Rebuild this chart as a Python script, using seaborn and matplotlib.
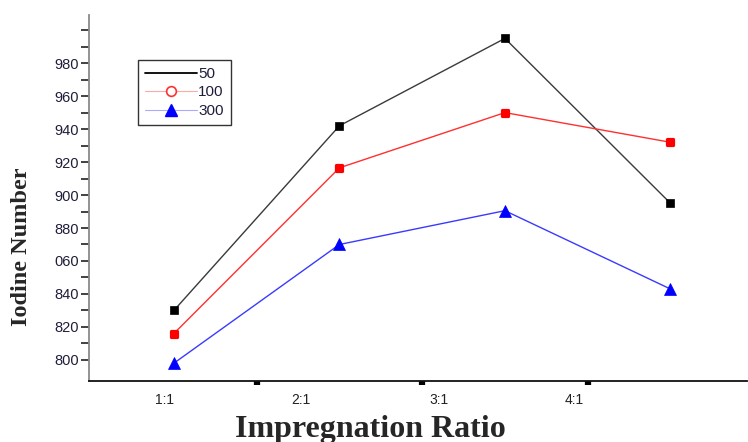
import matplotlib
matplotlib.use("Agg")
import matplotlib.pyplot as plt
from matplotlib.lines import Line2D
from matplotlib.markers import MarkerStyle
import seaborn as sns
import pandas as pd

categories = ["1:1", "2:1", "3:1", "4:1"]
series_names = ["50", "100", "300"]
vals_50 = [830, 942, 995, 895]
vals_100 = [816, 916.5, 950, 932]
vals_300 = [798, 870, 890.5, 843]
y_tick_values = [800, 820, 840, 860, 880, 900, 920, 940, 960, 980]
y_tick_labels = ["800", "820", "840", "060", "880", "900", "920", "940", "960", "980"]

sns.set_style("white")
plt.rcParams["font.family"] = ["Liberation Sans", "DejaVu Sans"]

pos = list(range(len(categories)))
df = pd.DataFrame({
    "pos": pos * 3,
    "value": vals_50 + vals_100 + vals_300,
    "series": [series_names[0]] * 4 + [series_names[1]] * 4 + [series_names[2]] * 4,
})

fig = plt.figure(figsize=(7.48, 4.42), dpi=100)
ax = fig.add_axes([89 / 748, 1 - 381 / 442, 1 - 89 / 748 - 0.001, (381 - 15) / 442])

styles = {
    "50": dict(color="#3a3a3a", marker="s", markersize=6.0, mfc="black", mec="black", mew=0.5, lw=1.0),
    "100": dict(color="#ff3030", marker=MarkerStyle("s", joinstyle="round"), markersize=5.0,
                mfc="#ff0000", mec="#ff0000", mew=2.3, lw=1.0),
    "300": dict(color="#3a3aff", marker="^", markersize=8.0, mfc="#0000ff", mec="#0000ff", mew=0.5, lw=1.0),
}
for name in series_names:
    sub = df[df["series"] == name]
    sns.lineplot(data=sub, x="pos", y="value", ax=ax, legend=False, **styles[name])

ax.set_xlim(-0.513, 3.464)
ax.set_ylim(787.2, 1009.2)

for s in ["top", "right"]:
    ax.spines[s].set_visible(False)
ax.spines["left"].set_color("#8a8a8a")
ax.spines["left"].set_linewidth(1.3)
ax.spines["bottom"].set_color("#111111")
ax.spines["bottom"].set_linewidth(1.3)

# y ticks
ax.set_yticks(y_tick_values)
ax.set_yticklabels(y_tick_labels)
minor_y = [v for v in range(810, 1001, 10) if v not in y_tick_values]
ax.set_yticks(minor_y, minor=True)
ax.tick_params(axis="y", which="both", direction="out", length=6, width=1.3,
               color="#333333", labelsize=10.5, labelcolor="#1e1e3a", pad=1, left=True)

# x ticks: dots between categories, labels offset
ax.set_xticks([0.5, 1.5, 2.5])
ax.set_xticklabels(["", "", ""])
ax.tick_params(axis="x", which="major", direction="out", length=3, width=4.5, color="black", bottom=True)
label_pos = [-0.054, 0.766, 1.599, 2.42]
ax.set_xticks(label_pos, minor=True)
ax.set_xticklabels(categories, minor=True)
ax.tick_params(axis="x", which="minor", length=0, labelsize=10, labelcolor="#222222", pad=9)

ax.set_xlabel("")
ax.set_ylabel("")
fig.text(22 / 748, 1 - 247 / 442, "Iodine Number", rotation=90, ha="center", va="center",
         fontsize=17.5, fontweight="bold", family=["Liberation Serif", "DejaVu Serif"])
fig.text(370 / 748, 1 - 429 / 442, "Impregnation Ratio", ha="center", va="center",
         fontsize=23, fontweight="bold", family=["Liberation Serif", "DejaVu Serif"])

handles = [
    Line2D([], [], color="black", lw=1.3),
    Line2D([], [], color="#ffaaaa", lw=0.8, marker="o", markersize=7, mfc="white", mec="#ff3030", mew=1.2),
    Line2D([], [], color="#aaaaff", lw=0.8, marker="^", markersize=8, mfc="#0000ff", mec="#0000ff"),
]
leg = ax.legend(handles, series_names, loc="upper left", bbox_to_anchor=((138 - 89) / 659, 1 - (60 - 15) / 366),
                frameon=True, fancybox=False, edgecolor="black", fontsize=11, handlelength=3.4,
                handletextpad=0.1, borderpad=0.45, labelspacing=0.3, borderaxespad=0)
leg.get_frame().set_linewidth(1.0)
for t in leg.get_texts():
    t.set_color("#1e1e3a")

fig.savefig("out.png", dpi=100)
